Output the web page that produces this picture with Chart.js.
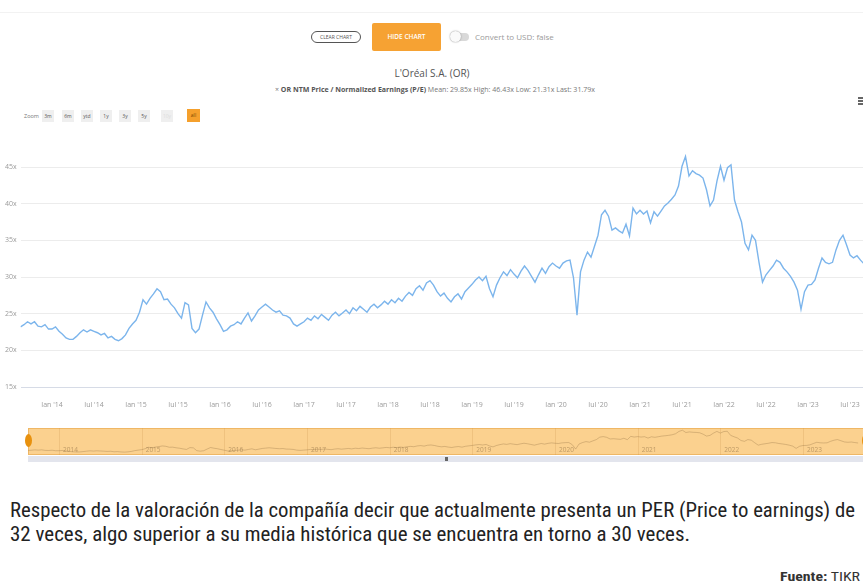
<!DOCTYPE html>
<html>
<head>
<meta charset="utf-8">
<script src="https://cdn.jsdelivr.net/npm/chart.js@4.4.0/dist/chart.umd.min.js"></script>
<style>
  html, body { margin: 0; padding: 0; background: #fff; }
  body { width: 863px; height: 585px; overflow: hidden; position: relative; font-family: "Open Sans", Roboto, sans-serif; }
  .abs { position: absolute; white-space: nowrap; }
  #topline { left: 0; top: 12px; width: 863px; height: 1px; background: #f2f2f2; }
  #clear { left: 311px; top: 31px; width: 48px; height: 10px; border: 1.5px solid #555; border-radius: 7px;
           font-size: 5px; line-height: 10px; color: #555; text-align: center; }
  #hide { left: 372px; top: 23px; width: 69px; height: 28px; background: #f6a233; border-radius: 2px;
          font-size: 6.5px; line-height: 28px; color: #fff; text-align: center; font-weight: 600; }
  #track { left: 456px; top: 33px; width: 13px; height: 8px; background: #d9d9d9; border-radius: 4px; }
  #knob { left: 450px; top: 31px; width: 11px; height: 11px; background: #fafafa; border-radius: 50%;
          box-shadow: 0 0 1.5px #777; }
  #usd { left: 475px; top: 31px; font-size: 8px; line-height: 12px; color: #9a9a9a; }
  #title { left: 0; width: 864px; top: 66px; text-align: center; font-size: 10px; line-height: 14px; color: #555; }
  #sub { left: 275px; top: 85px; font-size: 6.5px; line-height: 9px; color: #777; transform-origin: left top; }
  #sub b { color: #555; }
  #menu { left: 858px; top: 97px; width: 5px; height: 8px;
          background: repeating-linear-gradient(#666 0 1.5px, transparent 1.5px 3px); }
  #zoomTxt { left: 24px; top: 112px; font-size: 5.5px; line-height: 8px; color: #777; }
  .rb { top: 110px; width: 12px; height: 12px; background: #efefef; font-size: 5px; line-height: 12px;
        text-align: center; color: #555; }
  #rbAll { background: #f5a02c; color: #7a4700; width: 13px; height: 13px; top: 109px; line-height: 13px; }
  .handle { width: 7px; height: 13px; border-radius: 50%; background: #e8910e; top: 434px; }
  #scroll { left: 28px; top: 456px; width: 837px; height: 6px; background: #e3e5ed; }
  #grip { left: 445px; top: 457px; width: 3px; height: 4px; background: #666; }
  .para { left: 10px; font-family: "Roboto Condensed", "Liberation Sans Narrow", "DejaVu Sans Condensed", Roboto, sans-serif;
          font-size: 20px; line-height: 24px; color: #222; transform-origin: left top; }
  #fuente { font-family: "Roboto Condensed", "Liberation Sans Narrow", "DejaVu Sans Condensed", Roboto, sans-serif;
            font-size: 13px; line-height: 16px; color: #333; top: 569px; left: 780px; transform-origin: left top; }
</style>
</head>
<body>
<div class="abs" id="topline"></div>
<div class="abs" id="clear">CLEAR CHART</div>
<div class="abs" id="hide">HIDE CHART</div>
<div class="abs" id="track"></div>
<div class="abs" id="knob"></div>
<div class="abs" id="usd">Convert to USD: false</div>
<div class="abs" id="title">L'Oréal S.A. (OR)</div>
<div class="abs" id="sub"></div>
<div class="abs" id="menu"></div>
<div class="abs" id="zoomTxt">Zoom</div>
<div id="rangeBtns"></div>

<canvas id="main" class="abs" style="left:0;top:140px;" width="876" height="267"></canvas>
<canvas id="nav" class="abs" style="left:28px;top:428px;" width="837" height="27"></canvas>
<div class="abs handle" style="left:24.5px;"></div>
<div class="abs handle" style="left:861.5px;"></div>
<div class="abs" id="scroll"></div>
<div class="abs" id="grip"></div>

<div class="abs para" id="l1" style="top:498px;">Respecto de la valoración de la compañía decir que actualmente presenta un PER (Price to earnings) de</div>
<div class="abs para" id="l2" style="top:522px;">32 veces, algo superior a su media histórica que se encuentra en torno a 30 veces.</div>
<div class="abs" id="fuente"><b>Fuente:</b> TIKR</div>

<script>
// OR NTM Price / Normalized Earnings (P/E), one value every half month from Aug 2013
const startYear = 2013.625;
const stepYears = 1 / 24;
const peRatio = [
  23.2, 23.5, 23.9, 23.6, 23.9, 23.3, 23.2, 23.5, 22.9,                 // 2013
  22.9, 23.2, 22.6, 22.2, 21.7, 21.5, 21.5, 21.9, 22.4, 22.8, 22.5, 22.8, // 2014 H1
  22.6, 22.4, 22.1, 22.3, 21.7, 21.9, 21.5, 21.31, 21.6, 22.1, 23.0, 23.6,
  24.1, 25.2, 26.9, 26.3, 27.1, 27.7, 28.4, 28.0, 26.9, 27.0, 26.3, 25.8, // 2015
  25.0, 24.4, 26.5, 26.2, 23.0, 22.4, 22.9, 24.8, 26.6, 25.8, 25.2, 24.3,
  23.5, 22.6, 22.8, 23.3, 23.5, 23.9, 23.6, 24.4, 25.1, 24.0, 24.7, 25.5, // 2016
  25.9, 26.3, 25.9, 25.5, 25.2, 25.4, 24.8, 24.7, 24.4, 23.6, 23.3, 23.6,
  23.9, 24.4, 24.1, 24.7, 24.3, 24.9, 24.5, 24.1, 24.8, 25.2, 24.7, 25.1, // 2017
  25.5, 25.0, 25.8, 25.4, 26.0, 25.6, 25.2, 25.9, 26.3, 25.8, 26.2, 26.7,
  26.3, 26.9, 26.5, 27.1, 26.7, 27.4, 27.9, 27.5, 28.4, 28.8, 28.2, 29.2, // 2018
  29.5, 28.9, 28.0, 27.4, 27.8, 27.1, 26.6, 27.3, 27.7, 27.0, 28.0, 28.5,
  29.0, 29.6, 30.0, 29.5, 30.1, 28.4, 27.3, 28.9, 29.9, 30.7, 30.2, 31.0, // 2019
  30.4, 29.9, 30.8, 31.5, 30.9, 30.1, 29.3, 30.3, 31.2, 30.5, 31.4, 31.9,
  31.5, 31.2, 31.9, 32.2, 32.3, 29.9, 24.8, 30.7, 32.3, 33.4, 32.7, 34.2, // 2020
  35.7, 38.5, 39.1, 38.3, 36.4, 36.7, 36.3, 36.0, 37.2, 35.6, 39.4, 38.6,
  39.1, 38.6, 39.0, 37.4, 38.9, 38.3, 39.0, 39.7, 40.1, 40.6, 41.2, 42.4, // 2021
  45.1, 46.43, 43.8, 44.5, 44.1, 43.9, 43.5, 41.9, 39.7, 40.5, 43.1, 45.1,
  43.2, 44.9, 45.3, 40.5, 38.9, 37.5, 34.6, 33.7, 35.7, 35.0, 32.0, 29.3, // 2022
  30.3, 30.9, 31.5, 32.3, 32.0, 31.2, 30.7, 30.1, 29.3, 28.2, 25.6, 28.0,
  28.9, 29.0, 29.6, 31.2, 32.6, 32.0, 31.8, 32.0, 33.7, 35.0, 35.7, 34.4, // 2023
  33.0, 32.6, 32.9, 32.3, 31.79
];

const yTicks = [15, 20, 25, 30, 35, 40, 45];
const xTickYears = [2014, 2014.5, 2015, 2015.5, 2016, 2016.5, 2017, 2017.5, 2018, 2018.5,
                    2019, 2019.5, 2020, 2020.5, 2021, 2021.5, 2022, 2022.5, 2023, 2023.5];
const navYears = [2014, 2015, 2016, 2017, 2018, 2019, 2020, 2021, 2022, 2023];
const rangeLabels = ['3m', '6m', 'ytd', '1y', '3y', '5y', '10y', 'all'];
const stats = { mean: '29.85x', high: '46.43x', low: '21.31x', last: '31.79x' };

const points = peRatio.map((v, i) => ({ x: startYear + i * stepYears, y: v }));

// header texts
document.getElementById('sub').innerHTML =
  '× <b>OR NTM Price / Normalized Earnings (P/E)</b> Mean: ' + stats.mean + ' High: ' + stats.high +
  ' Low: ' + stats.low + ' Last: ' + stats.last;

const btnLeft = [42, 62, 81, 100, 119, 138, 161, 187];
const rb = document.getElementById('rangeBtns');
rangeLabels.forEach((t, i) => {
  const d = document.createElement('div');
  d.className = 'abs rb';
  if (t === 'all') d.id = 'rbAll';
  if (t === '10y') d.style.color = '#ddd';
  d.style.left = btnLeft[i] + 'px';
  d.textContent = t;
  rb.appendChild(d);
});

function halfLabel(v) {
  const yr = Math.floor(v + 1e-6);
  return (v - yr > 0.25 ? 'Jul' : 'Jan') + " '" + String(yr).slice(2);
}

// ================== MAIN CHART ==================
new Chart(document.getElementById('main'), {
  type: 'line',
  data: {
    datasets: [{
      data: points,
      borderColor: '#7cb5ec',
      borderWidth: 1.4,
      pointRadius: 0,
      tension: 0,
      fill: false
    }]
  },
  options: {
    animation: false,
    responsive: false,
    layout: { padding: { top: 8.7, left: 5, right: 5, bottom: 0 } },
    plugins: { legend: { display: false }, tooltip: { enabled: false } },
    scales: {
      x: {
        type: 'linear',
        min: startYear,
        max: 2023.75,
        grid: { display: false },
        border: { display: false },
        afterBuildTicks: s => { s.ticks = xTickYears.map(v => ({ value: v })); },
        afterFit: s => { s.height = 20; },
        ticks: {
          padding: 6, maxRotation: 0, autoSkip: false,
          font: { size: 7, family: 'Open Sans' }, color: '#9a9a9a',
          callback: v => halfLabel(v)
        }
      },
      y: {
        min: 15,
        max: 47.5,
        afterBuildTicks: s => { s.ticks = yTicks.map(v => ({ value: v })); },
        afterFit: s => { s.width = 15.5; },
        grid: {
          drawTicks: false,
          color: c => (c.tick && c.tick.value === 15 ? '#d6dbe6' : '#ececec')
        },
        border: { display: false },
        ticks: {
          crossAlign: 'far', padding: 0,
          font: { size: 7, family: 'Open Sans' }, color: '#9a9a9a',
          callback: v => v + 'x'
        }
      }
    }
  }
});

// ================== NAVIGATOR ==================
const navBand = {
  id: 'navBand',
  beforeDatasetsDraw(chart) {
    const { ctx, chartArea: a, scales } = chart;
    ctx.save();
    ctx.fillStyle = '#fbd18f';
    ctx.fillRect(a.left, a.top, a.right - a.left, a.bottom - a.top);
    ctx.strokeStyle = 'rgba(205,150,80,0.25)';
    ctx.lineWidth = 1;
    navYears.forEach(y => {
      const px = Math.round(scales.x.getPixelForValue(y)) + 0.5;
      ctx.beginPath(); ctx.moveTo(px, a.top); ctx.lineTo(px, a.bottom); ctx.stroke();
    });
    ctx.restore();
  },
  afterDraw(chart) {
    const { ctx, chartArea: a, scales } = chart;
    ctx.save();
    ctx.font = '6.5px "Open Sans"';
    ctx.fillStyle = 'rgba(130,100,60,0.5)';
    ctx.textBaseline = 'middle';
    navYears.forEach(y => ctx.fillText(String(y), scales.x.getPixelForValue(y) + 4, a.bottom - 5));
    ctx.strokeStyle = 'rgba(225,150,50,0.45)';
    ctx.strokeRect(a.left + 0.5, a.top + 0.5, a.right - a.left - 1, a.bottom - a.top - 1);
    ctx.restore();
  }
};

new Chart(document.getElementById('nav'), {
  type: 'line',
  data: {
    datasets: [{
      data: points,
      borderColor: 'rgba(150,115,70,0.35)',
      borderWidth: 1,
      pointRadius: 0,
      fill: false
    }]
  },
  options: {
    animation: false,
    responsive: false,
    layout: { padding: 0 },
    plugins: { legend: { display: false }, tooltip: { enabled: false } },
    scales: {
      x: { type: 'linear', min: startYear, max: 2023.75, display: false },
      y: { min: 18, max: 49, display: false }
    }
  },
  plugins: [navBand]
});

// stretch the text lines to the widths seen in the picture
function fit(id, w) {
  const el = document.getElementById(id);
  const r = el.getBoundingClientRect().width;
  el.style.transform = 'scaleX(' + (w / r) + ')';
}
fit('l1', 845);
fit('l2', 680);
fit('fuente', 80);
fit('sub', 320);
</script>
</body>
</html>
